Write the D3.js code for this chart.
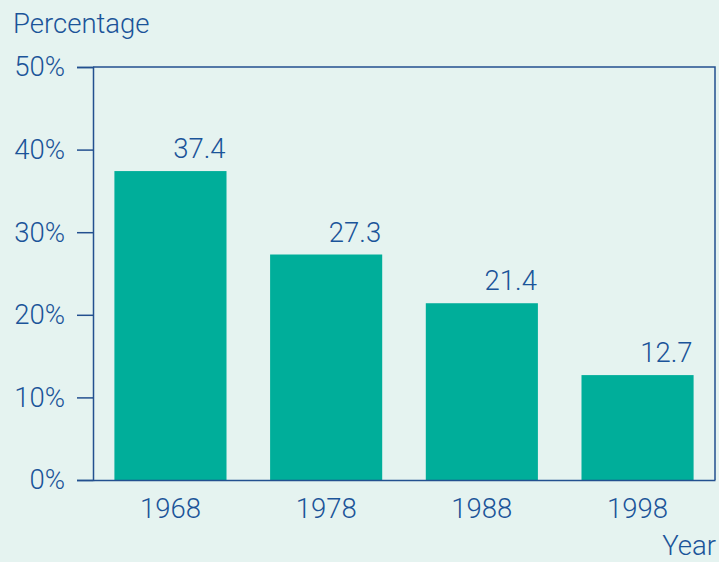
<!DOCTYPE html>
<html>
<head>
<meta charset="utf-8">
<script src="https://cdn.jsdelivr.net/npm/d3@7"></script>
<style>
  html, body { margin: 0; padding: 0; background: #e5f3f0; }
  svg { display: block; }
  text { font-family: Roboto, 'Liberation Sans', sans-serif; font-weight: 300; fill: #1b5499; }
</style>
</head>
<body>
<script>
const years = ['1968', '1978', '1988', '1998']
const values = [37.4, 27.3, 21.4, 12.7]
const yTicks = [0, 10, 20, 30, 40, 50]

const outerWidth = 719
const outerHeight = 562
const margin = { left: 93, top: 67, right: 4, bottom: 82 }

const innerWidth = outerWidth - margin.left - margin.right
const innerHeight = outerHeight - margin.top - margin.bottom
const navy = '#23508f'
const fontSize = 27.5

const svg = d3.select('body').append('svg')
  .attr('width', outerWidth)
  .attr('height', outerHeight)

svg.append('rect')
  .attr('width', outerWidth)
  .attr('height', outerHeight)
  .attr('fill', '#e5f3f0')

const g = svg.append('g')
  .attr('transform', 'translate(' + margin.left + ',' + margin.top + ')')

const xScale = d3.scaleBand()
  .range([0, innerWidth])
  .paddingInner(0.28)
  .paddingOuter(0.1375)
  .domain(years)

const yScale = d3.scaleLinear()
  .range([innerHeight, 0])
  .domain([0, 50])

// bars
g.selectAll('rect.bar')
  .data(values)
  .enter()
  .append('rect')
  .attr('class', 'bar')
  .attr('x', (d, i) => xScale(years[i]))
  .attr('y', d => yScale(d))
  .attr('width', xScale.bandwidth())
  .attr('height', d => innerHeight - yScale(d) + 1)
  .attr('fill', '#00ae9a')

// frame (top + right)
g.append('path')
  .attr('d', 'M0,0H' + innerWidth + 'V' + innerHeight)
  .attr('fill', 'none')
  .attr('stroke', navy)
  .attr('stroke-width', 1.5)

// y axis
const yAxis = g.append('g')
  .call(d3.axisLeft(yScale).tickValues(yTicks).tickSize(16).tickPadding(12)
    .tickFormat(d => d + '%'))
yAxis.select('.domain').attr('stroke', navy).attr('stroke-width', 1.5)
yAxis.selectAll('line').attr('stroke', navy).attr('stroke-width', 1.5)
yAxis.selectAll('text')
  .attr('font-size', fontSize)
  .attr('fill', '#1b5499')
  .style('font-family', 'Roboto, sans-serif')
  .style('font-weight', 300)

// x axis
const xAxis = g.append('g')
  .attr('transform', 'translate(0,' + innerHeight + ')')
  .call(d3.axisBottom(xScale).tickSize(0).tickPadding(18))
xAxis.select('.domain').attr('stroke', navy).attr('stroke-width', 1.5)
xAxis.selectAll('text')
  .attr('font-size', fontSize)
  .attr('fill', '#1b5499')
  .style('font-family', 'Roboto, sans-serif')
  .style('font-weight', 300)

// value labels
g.selectAll('text.value')
  .data(values)
  .enter()
  .append('text')
  .attr('class', 'value')
  .attr('x', (d, i) => xScale(years[i]) + xScale.bandwidth() - 1)
  .attr('y', d => yScale(d) - 13)
  .attr('text-anchor', 'end')
  .attr('font-size', fontSize)
  .text(d => d.toFixed(1))

// axis titles
svg.append('text')
  .attr('x', 13)
  .attr('y', 33)
  .attr('font-size', fontSize)
  .text('Percentage')

svg.append('text')
  .attr('x', 716)
  .attr('y', 555)
  .attr('text-anchor', 'end')
  .attr('font-size', fontSize)
  .text('Year')
</script>
</body>
</html>
